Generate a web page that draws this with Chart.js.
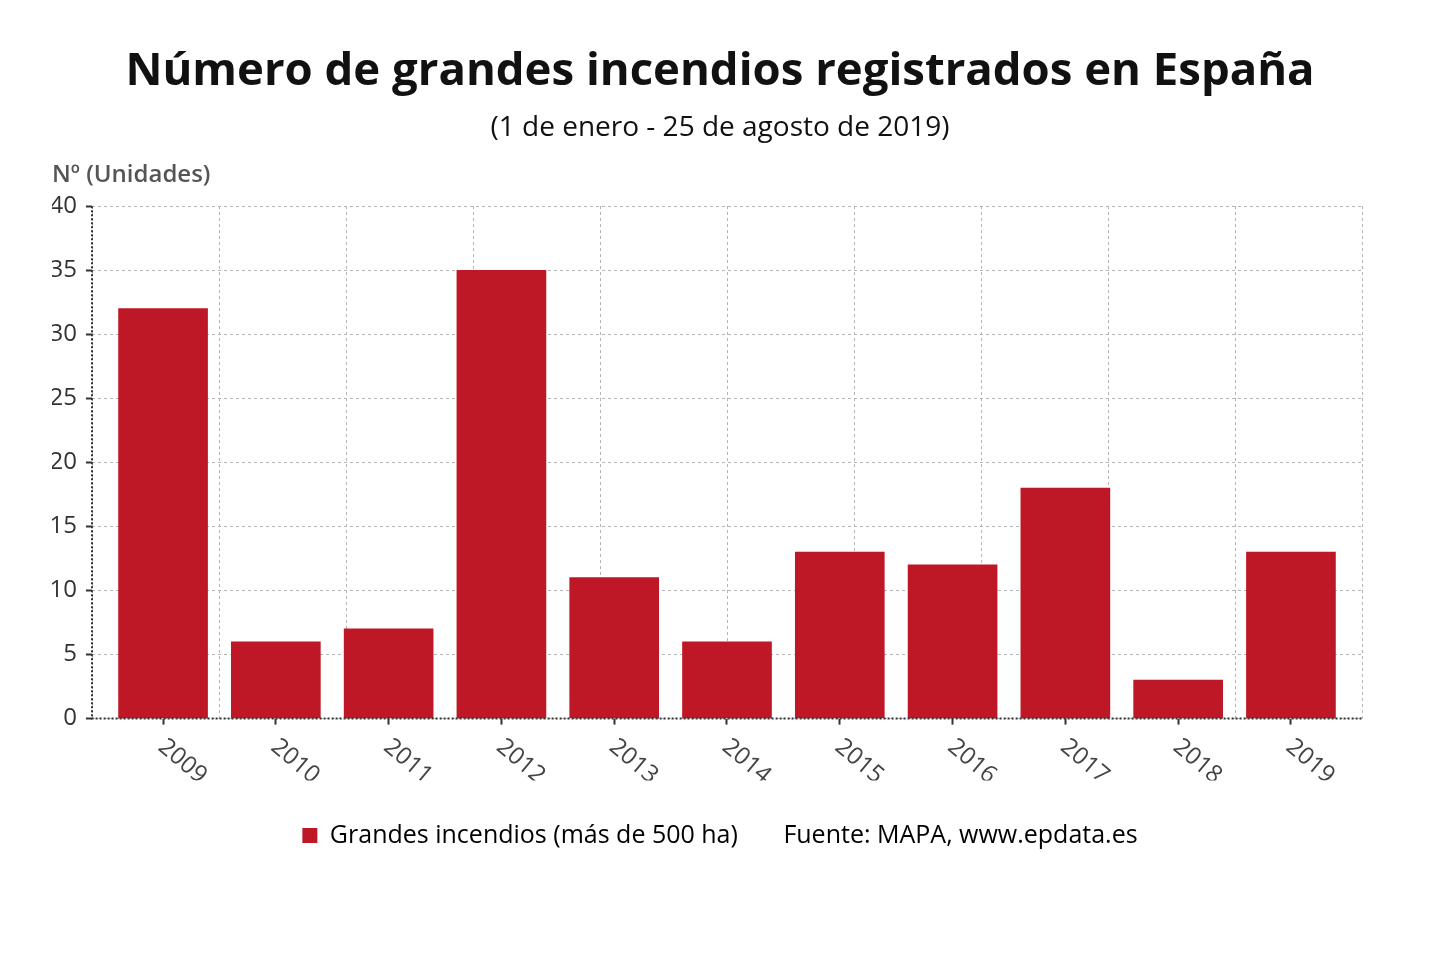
<!DOCTYPE html>
<html>
<head>
<meta charset="utf-8">
<script src="https://cdn.jsdelivr.net/npm/chart.js@4/dist/chart.umd.min.js"></script>
<style>
  html, body { margin: 0; padding: 0; background: #fff; }
  #wrap { width: 1440px; height: 971px; position: relative; }
</style>
</head>
<body>
<div id="wrap"><canvas id="chart_fires"></canvas></div>
<script>
// Data
const years = ["2009", "2010", "2011", "2012", "2013", "2014", "2015", "2016", "2017", "2018", "2019"];
const fires = [32, 6, 7, 35, 11, 6, 13, 12, 18, 3, 13];
const yTicks = [0, 5, 10, 15, 20, 25, 30, 35, 40];

const seriesName = "Grandes incendios (más de 500 ha)";
const sourceText = "Fuente: MAPA, www.epdata.es";
const titleText = "Número de grandes incendios registrados en España";
const subtitleText = "(1 de enero - 25 de agosto de 2019)";
const yTitle = "Nº (Unidades)";

const barColor = "#be1725";
const font = "'Open Sans', 'Noto Sans', sans-serif";

// horizontal y title, dotted axis lines and rotated year labels
const extras = {
    id: "extras",
    afterDraw(chart) {
        const ctx = chart.ctx;
        const area = chart.chartArea;
        const xs = chart.scales.x;

        ctx.save();
        ctx.font = "600 24px " + font;
        ctx.fillStyle = "#555";
        ctx.textAlign = "left";
        ctx.textBaseline = "alphabetic";
        ctx.fillText(yTitle, area.left - 40, area.top - 24);
        ctx.restore();

        // dotted axes
        ctx.save();
        ctx.strokeStyle = "#333";
        ctx.lineWidth = 2;
        ctx.setLineDash([2, 2]);
        ctx.beginPath();
        ctx.moveTo(area.left, area.top);
        ctx.lineTo(area.left, area.bottom);
        ctx.lineTo(area.right, area.bottom);
        ctx.stroke();
        ctx.restore();

        // year labels, rotated clockwise and cut at the bottom
        ctx.save();
        ctx.beginPath();
        ctx.rect(0, 0, chart.width, area.bottom + 62);
        ctx.clip();
        ctx.font = "24px " + font;
        ctx.fillStyle = "#444";
        ctx.textAlign = "left";
        ctx.textBaseline = "top";
        years.forEach(function(yr, i){
            const px = xs.getPixelForValue(i);
            ctx.save();
            ctx.translate(px + 6, area.bottom + 16);
            ctx.rotate(40 * Math.PI / 180);
            ctx.fillText(yr, 0, 0);
            ctx.restore();
        });
        ctx.restore();
    }
};

const data = {
    datasets: [
        {
            label: seriesName,
            data: years.map(function(yr, i){ return {x: i, y: fires[i]}; }),
            backgroundColor: barColor,
            borderWidth: 0,
            barThickness: 89,
            xAxisID: "x",
            yAxisID: "y"
        }
    ]
};

const config = {
    type: "bar",
    data: data,
    options: {
        responsive: true,
        maintainAspectRatio: false,
        animation: false,
        layout: { padding: { left: 52, right: 52, bottom: 113 } },
        scales: {
            x: {
                type: "linear",
                position: "bottom",
                offset: false,
                min: -0.63,
                max: 10.63,
                afterBuildTicks: function(scale){
                    scale.ticks = years.map(function(yr, i){ return {value: i}; });
                },
                ticks: { display: false },
                grid: { offset: false, drawOnChartArea: false, drawTicks: true, tickLength: 6, tickColor: "#333", tickWidth: 2 },
                border: { display: false },
                title: { display: true, text: " ", font: { size: 12 }, padding: { top: 66, bottom: 0 } }
            },
            xg: {
                type: "linear",
                position: "top",
                offset: false,
                min: 0,
                max: 10,
                ticks: { display: false, stepSize: 1 },
                grid: { offset: false, color: "#b4b4b4", lineWidth: 1, drawTicks: false },
                border: { display: false, dash: [3, 3] }
            },
            y: {
                min: 0,
                max: 40,
                afterBuildTicks: function(scale){
                    scale.ticks = yTicks.map(function(v){ return {value: v}; });
                },
                afterFit: function(scale){ scale.width = 40; },
                ticks: { color: "#333", padding: 9, font: { family: font, size: 24 } },
                grid: { color: "#b4b4b4", lineWidth: 1, tickLength: 6, tickColor: "#333", tickWidth: 2, tickBorderDash: [] },
                border: { display: false, dash: [3, 3] }
            },
            // empty right-hand spacer so the titles stay centred on the page
            yPad: {
                type: "linear",
                position: "right",
                ticks: { display: false },
                grid: { display: false },
                border: { display: false },
                afterFit: function(scale){ scale.width = 26; }
            }
        },
        plugins: {
            title: {
                display: true,
                text: titleText,
                color: "#111",
                font: { family: font, size: 45.5, weight: "bold" },
                padding: { top: 45, bottom: 12 }
            },
            subtitle: {
                display: true,
                text: subtitleText,
                color: "#111",
                font: { family: font, size: 28 },
                padding: { top: 0, bottom: 61 }
            },
            legend: {
                position: "bottom",
                onClick: null,
                labels: {
                    color: "#111",
                    font: { family: font, size: 25 },
                    boxWidth: 15,
                    boxHeight: 15,
                    padding: 18,
                    generateLabels: function(chart){
                        return [
                            { text: seriesName, fillStyle: barColor, strokeStyle: barColor, lineWidth: 0, datasetIndex: 0 },
                            { text: sourceText, fillStyle: "rgba(0,0,0,0)", strokeStyle: "rgba(0,0,0,0)", lineWidth: 0 }
                        ];
                    }
                }
            },
            tooltip: { enabled: false }
        }
    },
    plugins: [extras]
};

var grapharea = document.getElementById("chart_fires").getContext("2d");
var fires_chart = new Chart(grapharea, config);
</script>
</body>
</html>
